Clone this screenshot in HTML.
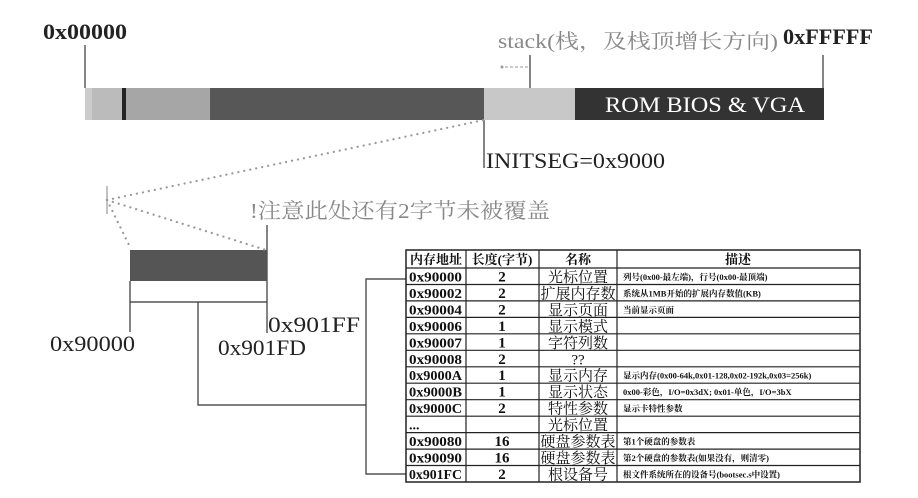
<!DOCTYPE html>
<html><head><meta charset="utf-8"><style>
body{margin:0;background:#fff;width:918px;height:498px;overflow:hidden}
svg{display:block}
text{font-family:"Liberation Serif","DejaVu Serif","Noto Serif CJK SC",serif}
</style></head><body>
<svg width="918" height="498" xmlns="http://www.w3.org/2000/svg">
<g font-weight="bold" fill="#222">
<text x="43" y="39" font-size="22" textLength="84" lengthAdjust="spacingAndGlyphs">0x00000</text>
<text x="783" y="44" font-size="22" textLength="90" lengthAdjust="spacingAndGlyphs">0xFFFFF</text>
</g>
<g fill="#222" font-size="22">
<text x="486" y="168" textLength="179" lengthAdjust="spacingAndGlyphs">INITSEG=0x9000</text>
<text x="268" y="332" textLength="92" lengthAdjust="spacingAndGlyphs">0x901FF</text>
<text x="50" y="351" textLength="85" lengthAdjust="spacingAndGlyphs">0x90000</text>
<text x="218" y="355" textLength="88" lengthAdjust="spacingAndGlyphs">0x901FD</text>
</g>
<text x="498" y="48" font-size="20" fill="#888" textLength="280" lengthAdjust="spacingAndGlyphs">stack(栈，及栈顶增长方向)</text>
<text x="250" y="218" font-size="21" fill="#888" textLength="300" lengthAdjust="spacingAndGlyphs">!注意此处还有2字节未被覆盖</text>
<g stroke="#333" stroke-width="1.2" fill="none">
<line x1="85" y1="45" x2="85" y2="88"/>
<line x1="823" y1="55" x2="823" y2="88"/>
<line x1="530" y1="55" x2="530" y2="88"/>
<line x1="484" y1="120" x2="484" y2="168"/>
<line x1="107" y1="186" x2="107" y2="214" stroke="#999"/>
<line x1="130" y1="281" x2="130" y2="332"/>
<line x1="130" y1="302" x2="267" y2="302"/>
<line x1="267" y1="225" x2="267" y2="333"/>
<polyline points="198,302 198,405 366,405"/>
<polyline points="406,279 366,279 366,474 406,474"/>
</g>
<line x1="528" y1="67" x2="505" y2="67" stroke="#999" stroke-dasharray="3,2"/>
<circle cx="502" cy="67" r="1.5" fill="#999"/>
<rect x="85" y="88" width="7" height="32" fill="#ccc"/>
<rect x="92" y="88" width="30" height="32" fill="#bbb"/>
<rect x="122" y="88" width="4" height="32" fill="#222"/>
<rect x="126" y="88" width="84" height="32" fill="#a6a6a6"/>
<rect x="210" y="88" width="274" height="32" fill="#575757"/>
<rect x="484" y="88" width="91" height="32" fill="#c8c8c8"/>
<rect x="575" y="88" width="249" height="32" fill="#333"/>
<text x="605" y="112" font-size="22" fill="#fff" textLength="200" lengthAdjust="spacingAndGlyphs">ROM BIOS &amp; VGA</text>
<rect x="130" y="250" width="137" height="31" fill="#555"/>
<g stroke="#999" stroke-width="2.2" stroke-dasharray="0.1,6" stroke-linecap="round">
<line x1="107" y1="200" x2="484" y2="120"/>
<line x1="107" y1="200" x2="266" y2="250"/>
<line x1="107" y1="200" x2="130" y2="247"/>
</g>
<g fill="#111">
<rect x="406" y="250" width="454" height="232" fill="none" stroke="#222" stroke-width="1.5"/>
<g stroke="#222" stroke-width="1.2">
<line x1="466" y1="250" x2="466" y2="482"/><line x1="539" y1="250" x2="539" y2="482"/><line x1="617" y1="250" x2="617" y2="482"/>
<line x1="406" y1="268" x2="860" y2="268"/>
<line x1="406" y1="284.5" x2="860" y2="284.5"/>
<line x1="406" y1="300.9" x2="860" y2="300.9"/>
<line x1="406" y1="317.4" x2="860" y2="317.4"/>
<line x1="406" y1="333.8" x2="860" y2="333.8"/>
<line x1="406" y1="350.3" x2="860" y2="350.3"/>
<line x1="406" y1="366.8" x2="860" y2="366.8"/>
<line x1="406" y1="383.2" x2="860" y2="383.2"/>
<line x1="406" y1="399.7" x2="860" y2="399.7"/>
<line x1="406" y1="416.2" x2="860" y2="416.2"/>
<line x1="406" y1="432.6" x2="860" y2="432.6"/>
<line x1="406" y1="449.1" x2="860" y2="449.1"/>
<line x1="406" y1="465.5" x2="860" y2="465.5"/>
</g>
<g font-size="13" text-anchor="middle" font-weight="bold">
<text x="436" y="264">内存地址</text><text x="502" y="264">长度(字节)</text><text x="578" y="264">名称</text><text x="738" y="264">描述</text>
</g>
<g font-size="14" font-weight="bold">
<text x="409" y="281.5" textLength="53" lengthAdjust="spacingAndGlyphs">0x90000</text>
<text x="409" y="297.9" textLength="53" lengthAdjust="spacingAndGlyphs">0x90002</text>
<text x="409" y="314.4" textLength="53" lengthAdjust="spacingAndGlyphs">0x90004</text>
<text x="409" y="330.8" textLength="53" lengthAdjust="spacingAndGlyphs">0x90006</text>
<text x="409" y="347.3" textLength="53" lengthAdjust="spacingAndGlyphs">0x90007</text>
<text x="409" y="363.8" textLength="53" lengthAdjust="spacingAndGlyphs">0x90008</text>
<text x="409" y="380.2" textLength="53" lengthAdjust="spacingAndGlyphs">0x9000A</text>
<text x="409" y="396.7" textLength="53" lengthAdjust="spacingAndGlyphs">0x9000B</text>
<text x="409" y="413.2" textLength="53" lengthAdjust="spacingAndGlyphs">0x9000C</text>
<text x="409" y="429.6">...</text>
<text x="409" y="446.1" textLength="53" lengthAdjust="spacingAndGlyphs">0x90080</text>
<text x="409" y="462.5" textLength="53" lengthAdjust="spacingAndGlyphs">0x90090</text>
<text x="409" y="479" textLength="53" lengthAdjust="spacingAndGlyphs">0x901FC</text>
</g>
<g font-size="15" font-weight="bold" text-anchor="middle">
<text x="502" y="281.5">2</text>
<text x="502" y="297.9">2</text>
<text x="502" y="314.4">2</text>
<text x="502" y="330.8">1</text>
<text x="502" y="347.3">1</text>
<text x="502" y="363.8">2</text>
<text x="502" y="380.2">1</text>
<text x="502" y="396.7">1</text>
<text x="502" y="413.2">2</text>
<text x="502" y="446.1">16</text>
<text x="502" y="462.5">16</text>
<text x="502" y="479">2</text>
</g>
<g font-size="15" text-anchor="middle">
<text x="578" y="282">光标位置</text>
<text x="578" y="298.4">扩展内存数</text>
<text x="578" y="314.9">显示页面</text>
<text x="578" y="331.3">显示模式</text>
<text x="578" y="347.8">字符列数</text>
<text x="578" y="364.3">??</text>
<text x="578" y="380.7">显示内存</text>
<text x="578" y="397.2">显示状态</text>
<text x="578" y="413.7">特性参数</text>
<text x="578" y="430.1">光标位置</text>
<text x="578" y="446.6">硬盘参数表</text>
<text x="578" y="463">硬盘参数表</text>
<text x="578" y="479.5">根设备号</text>
</g>
<g font-size="8.5" font-weight="bold">
<text x="623" y="280">列号(0x00-最左端)，行号(0x00-最顶端)</text>
<text x="623" y="296.4">系统从1MB开始的扩展内存数值(KB)</text>
<text x="623" y="312.9">当前显示页面</text>
<text x="623" y="378.7">显示内存(0x00-64k,0x01-128,0x02-192k,0x03=256k)</text>
<text x="623" y="395.2">0x00-彩色，I/O=0x3dX; 0x01-单色，I/O=3bX</text>
<text x="623" y="411.7">显示卡特性参数</text>
<text x="623" y="444.6">第1个硬盘的参数表</text>
<text x="623" y="461">第2个硬盘的参数表(如果没有，则清零)</text>
<text x="623" y="477.5">根文件系统所在的设备号(bootsec.s中设置)</text>
</g>
</g>
</svg>
</body></html>
